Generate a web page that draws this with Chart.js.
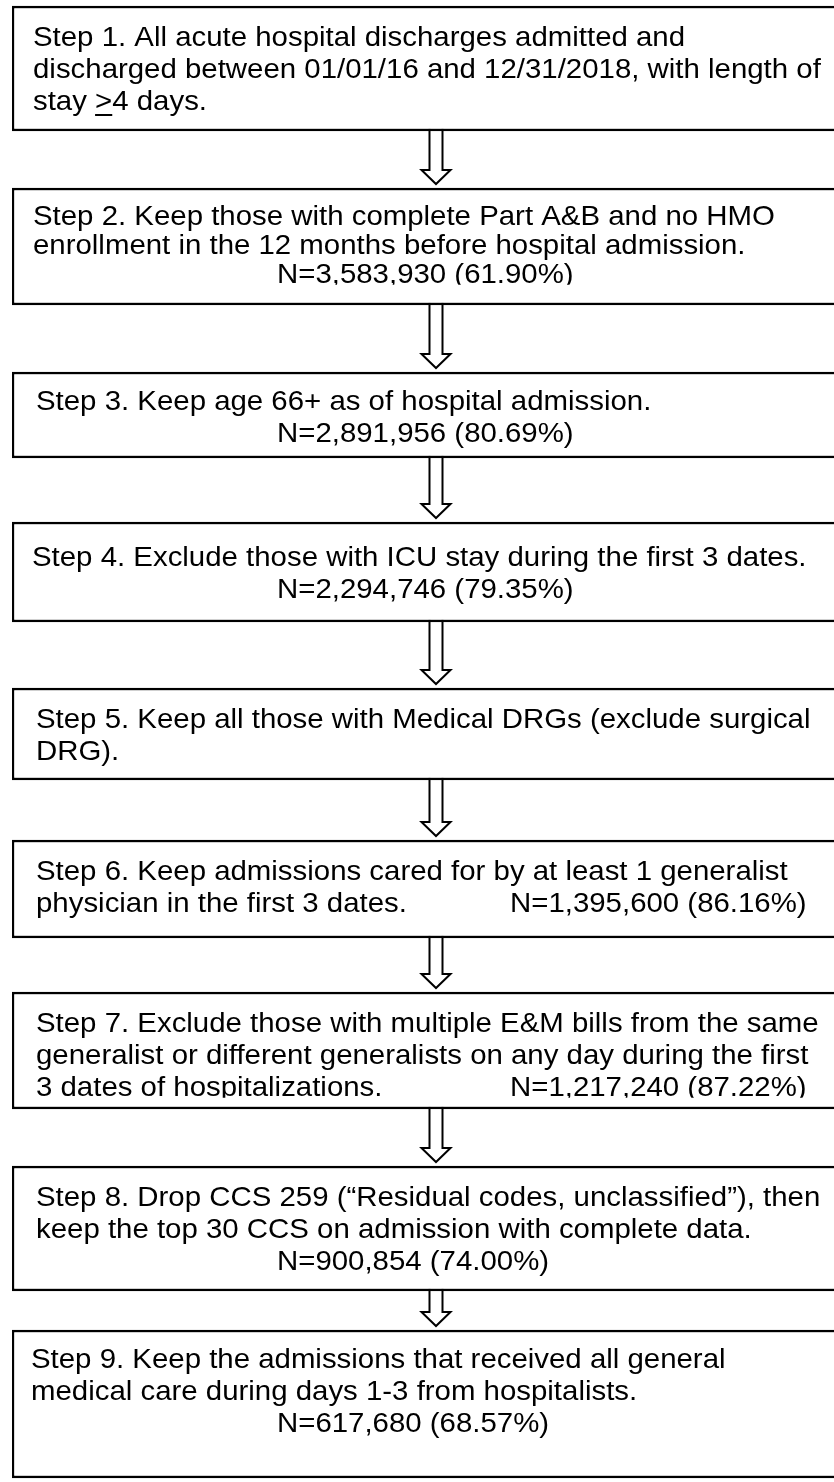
<!DOCTYPE html>
<html>
<head>
<meta charset="utf-8">
<script src="https://cdn.jsdelivr.net/npm/chart.js@4.4.1/dist/chart.umd.min.js"></script>
<style>
    html, body { margin: 0; padding: 0; background: #fff; overflow: hidden; }
    #wrap { position: relative; width: 850px; height: 1482px; }
</style>
</head>
<body>
<div id="wrap"><canvas id="fluxo" width="850" height="1482"></canvas></div>
<script>
// texto de cada etapa (quebras de linha como no original; "_>_" = ">" sublinhado)
const stepLines = [
    ["Step 1. All acute hospital discharges admitted and",
     "discharged between 01/01/16 and 12/31/2018, with length of",
     "stay _>_4 days."],
    ["Step 2. Keep those with complete Part A&B and no HMO",
     "enrollment in the 12 months before hospital admission."],
    ["Step 3. Keep age 66+ as of hospital admission."],
    ["Step 4. Exclude those with ICU stay during the first 3 dates."],
    ["Step 5. Keep all those with Medical DRGs (exclude surgical",
     "DRG)."],
    ["Step 6. Keep admissions cared for by at least 1 generalist",
     "physician in the first 3 dates."],
    ["Step 7. Exclude those with multiple E&M bills from the same",
     "generalist or different generalists on any day during the first",
     "3 dates of hospitalizations."],
    ["Step 8. Drop CCS 259 (\u201cResidual codes, unclassified\u201d), then",
     "keep the top 30 CCS on admission with complete data."],
    ["Step 9. Keep the admissions that received all general",
     "medical care during days 1-3 from hospitalists."]
];
const stepCounts   = [null, 3583930, 2891956, 2294746, null, 1395600, 1217240, 900854, 617680];
const stepPercents = [null, 61.90, 80.69, 79.35, null, 86.16, 87.22, 74.00, 68.57];

// layout (px da pagina)
const boxTop    = [6, 188, 372, 522, 688, 840, 992, 1166, 1330];
const boxBottom = [131, 305, 458, 622, 780, 938, 1109, 1291, 1478];
const textLeft  = [33, 33, 36, 32, 36, 36, 36, 36, 31];
const firstLine = [32, 29, 30, 36, 32, 32, 32, 32, 30];
const lineStep  = [32, 29, 32, 32, 32, 32, 32, 32, 32];
const clipLast  = [false, true, false, false, false, false, true, false, false]; // caixa de texto corta a ultima linha
const nInline   = [false, false, false, false, false, true, true, false, false];
const N_LEFT = 277;
const N_INLINE_LEFT = 510;
const ARROW_X = 436;
const FONT_PX = 27.5;
const FONT = FONT_PX + "px 'Liberation Sans', Arial, sans-serif";
const STRETCH = 1.069;

function nLabel(i) {
    return "N=" + stepCounts[i].toLocaleString("en-US") + " (" + stepPercents[i].toFixed(2) + "%)";
}

function drawLine(ctx, txt, x, y) {
    ctx.save();
    ctx.translate(x, y);
    ctx.scale(STRETCH, 1);
    let cx = 0;
    txt.split("_").forEach((p, k) => {
        ctx.fillText(p, cx, 0);
        const w = ctx.measureText(p).width;
        if (k % 2 === 1) {
            ctx.fillRect(cx, 12, w, 2);
        }
        cx += w;
    });
    ctx.restore();
}

function boxOf(bar) {
    return { top: Math.min(bar.y, bar.base), bottom: Math.max(bar.y, bar.base) };
}

const setas = {
    id: "setas",
    beforeDatasetsDraw(chart) {
        const ctx = chart.ctx;
        const bars = chart.getDatasetMeta(0).data;
        ctx.save();
        ctx.strokeStyle = "#000";
        ctx.fillStyle = "#fff";
        ctx.lineWidth = 2;
        for (let i = 0; i < bars.length - 1; i++) {
            const y0 = boxOf(bars[i]).bottom - 4;
            const y1 = boxOf(bars[i + 1]).top - 4;
            const hh = 14;
            ctx.beginPath();
            ctx.moveTo(ARROW_X - 6.5, y0);
            ctx.lineTo(ARROW_X + 6.5, y0);
            ctx.lineTo(ARROW_X + 6.5, y1 - hh);
            ctx.lineTo(ARROW_X + 14.5, y1 - hh);
            ctx.lineTo(ARROW_X, y1);
            ctx.lineTo(ARROW_X - 14.5, y1 - hh);
            ctx.lineTo(ARROW_X - 6.5, y1 - hh);
            ctx.closePath();
            ctx.fill();
            ctx.stroke();
        }
        ctx.restore();
    }
};

const textos = {
    id: "textos",
    afterDatasetsDraw(chart) {
        const ctx = chart.ctx;
        const bars = chart.getDatasetMeta(0).data;
        bars.forEach((bar, i) => {
            const b = boxOf(bar);
            const y = b.top + firstLine[i];
            const lines = stepLines[i];
            const hasN = stepCounts[i] !== null;
            const nLines = lines.length + (hasN && !nInline[i] ? 1 : 0);
            ctx.save();
            if (clipLast[i]) {
                // corta na linha de base da ultima linha
                const lastBase = y + (nLines - 1) * lineStep[i] + FONT_PX * 0.35;
                ctx.beginPath();
                ctx.rect(0, b.top, chart.width, lastBase - b.top);
                ctx.clip();
            }
            ctx.fillStyle = "#000";
            ctx.font = FONT;
            ctx.textBaseline = "middle";
            lines.forEach((ln, k) => {
                drawLine(ctx, ln, textLeft[i], y + k * lineStep[i]);
            });
            if (hasN) {
                if (nInline[i]) {
                    drawLine(ctx, nLabel(i), N_INLINE_LEFT, y + (lines.length - 1) * lineStep[i]);
                } else {
                    drawLine(ctx, nLabel(i), N_LEFT, y + lines.length * lineStep[i]);
                }
            }
            ctx.restore();
        });
    }
};

new Chart(document.getElementById("fluxo"), {
    type: "bar",
    data: {
        labels: ["fluxo"],
        datasets: [{
            data: boxTop.map((t, i) => ({ x: "fluxo", y: [t, boxBottom[i]] })),
            backgroundColor: "#fff",
            borderColor: "#000",
            borderWidth: 2.5,
            borderSkipped: false,
            barPercentage: 1,
            categoryPercentage: 1
        }]
    },
    options: {
        responsive: false,
        animation: false,
        layout: { padding: { left: 12, right: 0, top: 0, bottom: 0 } },
        plugins: {
            legend: { display: false },
            tooltip: { enabled: false }
        },
        scales: {
            x: { display: false },
            y: { display: false, min: 0, max: 1482, reverse: true }
        }
    },
    plugins: [setas, textos]
});
</script>
</body>
</html>
